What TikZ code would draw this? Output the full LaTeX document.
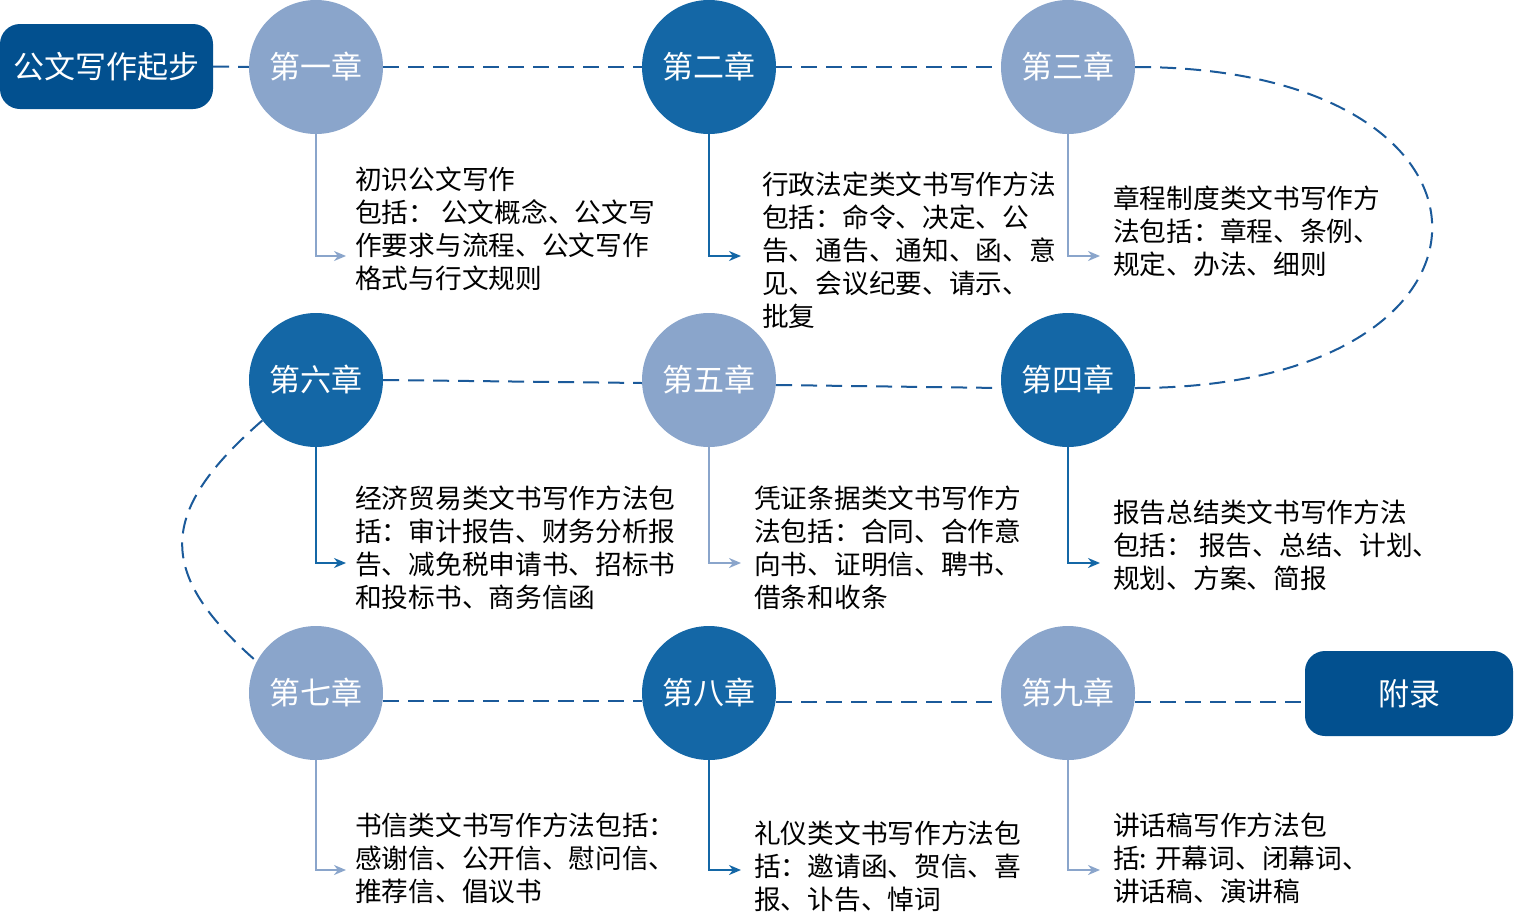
\documentclass[tikz,border=0pt]{standalone}
\usepackage{fontspec}
\setmainfont{Noto Sans CJK SC}
\usetikzlibrary{arrows.meta}
\definecolor{chlight}{RGB}{138,165,203}
\definecolor{chdark}{RGB}{20,103,166}
\definecolor{boxblue}{RGB}{2,80,143}
\definecolor{dashblue}{RGB}{27,90,154}

\tikzset{
    lightch/.style={circle, fill=chlight, text=white, minimum size=134pt, inner sep=0pt,
        font=\fontsize{31}{31}\selectfont},
    darkch/.style={lightch, fill=chdark},
    endbox/.style={rectangle, rounded corners=20pt, fill=boxblue, text=white,
        minimum height=85pt, inner sep=0pt, font=\fontsize{31}{31}\selectfont},
    route/.style={dashblue, line width=2pt, dash pattern=on 16pt off 9pt},
    lighttick/.style={chlight, line width=2pt, -{Stealth[length=12pt, width=10pt]}},
    darktick/.style={lighttick, chdark},
    desc/.style={anchor=north west, inner sep=0pt, align=left,
        font=\fontsize{26.7}{33}\selectfont},
}

\begin{document}
\begin{tikzpicture}[x=1pt, y=-1pt]
    \useasboundingbox (0, 0) rectangle (1514, 921);

    % start, appendix
    \node[endbox, minimum width=213pt] (start) at (106.5, 66.5) {公文写作起步};
    \node[endbox, minimum width=208pt] (appx) at (1409, 693.5) {附录};

    % chapters
    \node[lightch] (ch1) at (316, 67) {第一章};
    \node[darkch] (ch2) at (709, 67) {第二章};
    \node[lightch] (ch3) at (1068, 67) {第三章};
    \node[darkch] (ch6) at (316, 380) {第六章};
    \node[lightch] (ch5) at (709, 380) {第五章};
    \node[darkch] (ch4) at (1068, 380) {第四章};
    \node[lightch] (ch7) at (316, 693) {第七章};
    \node[darkch] (ch8) at (709, 693) {第八章};
    \node[lightch] (ch9) at (1068, 693) {第九章};

    % dashed route
    \draw[route] (start.east) -- (ch1.west);
    \draw[route] (ch1.east) -- (ch2.west);
    \draw[route] (ch2.east) -- (ch3.west);
    \draw[route] (ch3.east)
        .. controls +(396, 0) and +(396, 0) .. ([yshift=-8pt]ch4.east);
    \draw[route] ([yshift=-5pt]ch5.east) -- ([yshift=-8pt]ch4.west);
    \draw[route] (ch6.east) -- ([yshift=-3pt]ch5.west);
    \draw[route] (ch6.217)
        .. controls +(-103, 90) and +(-103, -90) .. (ch7.152);
    \draw[route] ([yshift=-8pt]ch7.east) -- ([yshift=-8pt]ch8.west);
    \draw[route] ([yshift=-9pt]ch8.east) -- ([yshift=-9pt]ch9.west);
    \draw[route] ([yshift=-9pt]ch9.east) -- ([yshift=-8.5pt]appx.west);

    % descriptions
    \node[desc] (t1) at (355, 167) {初识公文写作\\包括： 公文概念、公文写\\作要求与流程、公文写作\\格式与行文规则};
    \node[desc] (t2) at (762, 172) {行政法定类文书写作方法\\包括：命令、决定、公\\告、通告、通知、函、意\\见、会议纪要、请示、\\批复};
    \node[desc] (t3) at (1113, 185) {章程制度类文书写作方\\法包括：章程、条例、\\规定、办法、细则};
    \node[desc] (t6) at (355, 486) {经济贸易类文书写作方法包\\括：审计报告、财务分析报\\告、减免税申请书、招标书\\和投标书、商务信函};
    \node[desc] (t5) at (754, 486) {凭证条据类文书写作方\\法包括：合同、合作意\\向书、证明信、聘书、\\借条和收条};
    \node[desc] (t4) at (1113, 500) {报告总结类文书写作方法\\包括： 报告、总结、计划、\\规划、方案、简报};
    \node[desc] (t7) at (355, 813) {书信类文书写作方法包括：\\感谢信、公开信、慰问信、\\推荐信、倡议书};
    \node[desc] (t8) at (754, 821) {礼仪类文书写作方法包\\括：邀请函、贺信、喜\\报、讣告、悼词};
    \node[desc] (t9) at (1113, 813) {讲话稿写作方法包\\括: 开幕词、闭幕词、\\讲话稿、演讲稿};

    % arrow ends
    \coordinate (e1) at (346, 256);
    \coordinate (e2) at (741, 256);
    \coordinate (e3) at (1100, 256);
    \coordinate (e6) at (346, 563);
    \coordinate (e5) at (741, 563);
    \coordinate (e4) at (1100, 563);
    \coordinate (e7) at (346, 870);
    \coordinate (e8) at (741, 870);
    \coordinate (e9) at (1100, 870);

    \draw[lighttick] (ch1.south) |- (e1);
    \draw[darktick] (ch2.south) |- (e2);
    \draw[lighttick] (ch3.south) |- (e3);
    \draw[darktick] (ch6.south) |- (e6);
    \draw[lighttick] (ch5.south) |- (e5);
    \draw[darktick] (ch4.south) |- (e4);
    \draw[lighttick] (ch7.south) |- (e7);
    \draw[darktick] (ch8.south) |- (e8);
    \draw[lighttick] (ch9.south) |- (e9);
\end{tikzpicture}
\end{document}
